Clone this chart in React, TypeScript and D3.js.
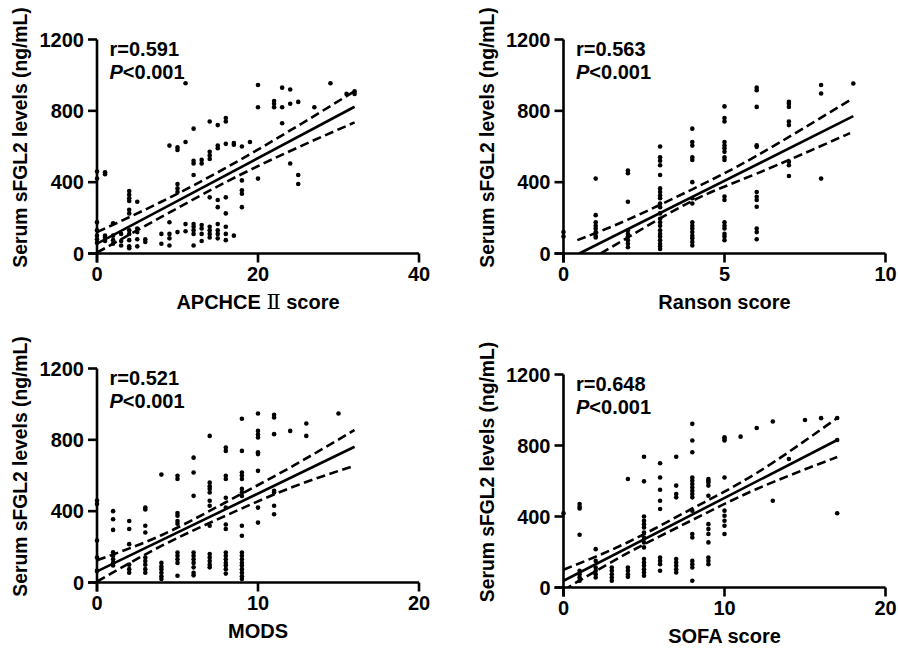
import React from "react"
import * as d3 from "d3"

// shared y axis
const yTicks = [0, 400, 800, 1200]
const yTitle = "Serum sFGL2 levels (ng/mL)"

// APCHCE II panel
const apachePts: [number, number][] = [
  [0, 460], [0, 420], [0, 175], [0, 130], [0, 100], [0, 80], [0, 60],
  [1, 455], [1, 445], [1, 100], [1, 70], [1, 90],
  [2, 170], [2, 100], [2, 75], [2, 55],
  [3, 110], [3, 70], [3, 45],
  [4, 350], [4, 330], [4, 310], [4, 295], [4, 245], [4, 225], [4, 130], [4, 110], [4, 75], [4, 40], [4, 30],
  [5, 290], [5, 140], [5, 120], [5, 80], [5, 40],
  [6, 80], [6, 65],
  [8, 110], [8, 55],
  [9, 605], [9, 175], [9, 110], [9, 85], [9, 45],
  [10, 595], [10, 580], [10, 390], [10, 365], [10, 345], [10, 120],
  [11, 955], [11, 625], [11, 165], [11, 125],
  [12, 700], [12, 520], [12, 505], [12, 440], [12, 165], [12, 150], [12, 130], [12, 110], [12, 45],
  [13, 525], [13, 505], [13, 160], [13, 140], [13, 110], [13, 70],
  [14, 740], [14, 570], [14, 550], [14, 530], [14, 315], [14, 150], [14, 130], [14, 110], [14, 90],
  [15, 720], [15, 605], [15, 590], [15, 300], [15, 260], [15, 165], [15, 130], [15, 110], [15, 85],
  [16, 760], [16, 740], [16, 615], [16, 315], [16, 225], [16, 150], [16, 110], [16, 75],
  [17, 620], [17, 610], [17, 100],
  [18, 600], [18, 410], [18, 355], [18, 335], [18, 260],
  [19, 625],
  [20, 945], [20, 820], [20, 420],
  [22, 855], [22, 840], [22, 820],
  [23, 930], [23, 820], [23, 730],
  [24, 920], [24, 840], [24, 505],
  [25, 850], [25, 440], [25, 390],
  [27, 820], [29, 955], [31, 895], [32, 910], [32, 895],
]
const apacheFit: [number, number][] = [[0, 55], [32, 823]]
const apacheCiX = [0, 8, 16, 24, 32]
const apacheCiUp = [120, 290, 480, 690, 910]
const apacheCiLo = [5, 205, 400, 575, 735]

// Ranson panel
const ransonPts: [number, number][] = [
  [0, 120], [0, 95],
  [1, 420], [1, 215], [1, 175], [1, 155], [1, 140], [1, 120], [1, 100], [1, 90],
  [2, 465], [2, 450], [2, 290], [2, 130], [2, 110], [2, 95], [2, 75], [2, 55], [2, 35],
  [3, 600], [3, 540], [3, 520], [3, 495], [3, 440], [3, 365], [3, 345], [3, 325], [3, 310], [3, 280], [3, 260],
  [3, 225], [3, 195], [3, 175], [3, 155], [3, 130], [3, 110], [3, 95], [3, 75], [3, 55], [3, 40], [3, 25],
  [4, 700], [4, 625], [4, 605], [4, 540], [4, 525], [4, 400], [4, 310], [4, 280], [4, 175], [4, 155], [4, 140],
  [4, 120], [4, 100], [4, 85], [4, 65], [4, 45],
  [5, 825], [5, 760], [5, 740], [5, 625], [5, 605], [5, 590], [5, 570], [5, 540], [5, 525], [5, 320], [5, 300],
  [5, 175], [5, 155], [5, 140], [5, 110], [5, 95], [5, 75],
  [6, 930], [6, 915], [6, 822], [6, 607], [6, 598], [6, 345], [6, 318], [6, 300], [6, 262], [6, 140], [6, 120], [6, 80],
  [7, 850], [7, 840], [7, 822], [7, 740], [7, 720], [7, 515], [7, 495], [7, 435],
  [8, 945], [8, 897], [8, 420],
  [9, 953],
]
const ransonFit: [number, number][] = [[0.49, 0], [9, 770]]
const ransonCiX = [0.43, 2, 4, 6, 8.9]
const ransonCiUp = [75, 190, 360, 548, 860]
const ransonCiLo = [-75, 90, 295, 448, 675]

// MODS panel
const modsPts: [number, number][] = [
  [0, 460], [0, 440], [0, 235], [0, 140], [0, 65],
  [1, 400], [1, 355], [1, 295], [1, 170], [1, 150], [1, 130], [1, 110], [1, 95],
  [2, 345], [2, 300], [2, 215], [2, 100], [2, 75], [2, 55],
  [3, 420], [3, 410], [3, 318], [3, 280], [3, 140], [3, 120], [3, 100], [3, 75], [3, 55],
  [4, 605], [4, 110], [4, 90], [4, 75], [4, 55], [4, 35], [4, 20],
  [5, 598], [5, 580], [5, 390], [5, 375], [5, 345], [5, 330], [5, 168], [5, 150], [5, 130], [5, 110], [5, 38],
  [6, 700], [6, 617], [6, 486], [6, 168], [6, 150], [6, 130], [6, 110], [6, 85], [6, 55], [6, 40],
  [7, 822], [7, 560], [7, 540], [7, 525], [7, 505], [7, 458], [7, 430], [7, 318], [7, 160], [7, 140], [7, 120], [7, 100], [7, 85],
  [8, 757], [8, 738], [8, 598], [8, 580], [8, 475], [8, 420], [8, 325], [8, 300], [8, 168], [8, 150], [8, 130],
  [8, 110], [8, 95], [8, 75], [8, 50],
  [9, 918], [9, 738], [9, 617], [9, 600], [9, 580], [9, 525], [9, 505], [9, 485], [9, 318], [9, 262], [9, 168],
  [9, 150], [9, 130], [9, 110], [9, 95], [9, 75], [9, 55], [9, 35], [9, 20],
  [10, 948], [10, 850], [10, 830], [10, 813], [10, 730], [10, 720], [10, 626], [10, 420], [10, 336],
  [11, 940], [11, 925], [11, 832], [11, 514], [11, 505], [11, 430], [11, 383],
  [12, 850], [13, 892], [13, 822], [15, 948],
]
const modsFit: [number, number][] = [[0, 62], [16, 761]]
const modsCiX = [0, 4, 8, 12, 16]
const modsCiUp = [125, 265, 450, 645, 855]
const modsCiLo = [5, 205, 375, 530, 655]

// SOFA panel
const sofaPts: [number, number][] = [
  [0, 418],
  [1, 470], [1, 455], [1, 445], [1, 297], [1, 94], [1, 75], [1, 56], [1, 38],
  [2, 216], [2, 150], [2, 113], [2, 94], [2, 75], [2, 56],
  [3, 113], [3, 94], [3, 75], [3, 56], [3, 38],
  [4, 611], [4, 113], [4, 94], [4, 75], [4, 60],
  [5, 737], [5, 598], [5, 400], [5, 376], [5, 357], [5, 338], [5, 310], [5, 282], [5, 254], [5, 226], [5, 160],
  [5, 141], [5, 122], [5, 103], [5, 85], [5, 66],
  [6, 700], [6, 620], [6, 551], [6, 489], [6, 442], [6, 169], [6, 150], [6, 131], [6, 94],
  [7, 737], [7, 574], [7, 527], [7, 508], [7, 160], [7, 141], [7, 122], [7, 103], [7, 85],
  [8, 922], [8, 828], [8, 762], [8, 620], [8, 602], [8, 583], [8, 564], [8, 545], [8, 527], [8, 508], [8, 433],
  [8, 301], [8, 282], [8, 150], [8, 131], [8, 113], [8, 38],
  [9, 611], [9, 602], [9, 592], [9, 574], [9, 517], [9, 357], [9, 329], [9, 301], [9, 254], [9, 169], [9, 150], [9, 131],
  [10, 846], [10, 837], [10, 828], [10, 620], [10, 433], [10, 404], [10, 376], [10, 348], [10, 301],
  [11, 850], [12, 899], [13, 935], [13, 489], [14, 724], [15, 944], [16, 954],
  [17, 955], [17, 831], [17, 418],
]
const sofaFit: [number, number][] = [[0, 38], [17, 831]]
const sofaCiX = [0, 4, 8, 12, 17]
const sofaCiUp = [100, 255, 445, 645, 955]
const sofaCiLo = [-15, 195, 380, 555, 735]

const panels = [
  { id: "a", xTitle: ["APCHCE ", "Ⅱ", " score"], r: "r=0.591", xMax: 40, xTicks: [0, 20, 40],
    pts: apachePts, fit: apacheFit, ciX: apacheCiX, ciUp: apacheCiUp, ciLo: apacheCiLo,
    box: { left: 97, right: 419, top: 39.5, bottom: 253.5 } },
  { id: "b", xTitle: ["Ranson score"], r: "r=0.563", xMax: 10, xTicks: [0, 5, 10],
    pts: ransonPts, fit: ransonFit, ciX: ransonCiX, ciUp: ransonCiUp, ciLo: ransonCiLo,
    box: { left: 563.5, right: 885.5, top: 39.5, bottom: 253.5 } },
  { id: "c", xTitle: ["MODS"], r: "r=0.521", xMax: 20, xTicks: [0, 10, 20],
    pts: modsPts, fit: modsFit, ciX: modsCiX, ciUp: modsCiUp, ciLo: modsCiLo,
    box: { left: 97, right: 419, top: 368.5, bottom: 582.5 } },
  { id: "d", xTitle: ["SOFA score"], r: "r=0.648", xMax: 20, xTicks: [0, 10, 20],
    pts: sofaPts, fit: sofaFit, ciX: sofaCiX, ciUp: sofaCiUp, ciLo: sofaCiLo,
    box: { left: 563.5, right: 885.5, top: 374.5, bottom: 587.5 } },
]

const font = "'Liberation Sans', Arial, sans-serif"

function Panel({ p }: { p: typeof panels[number] }) {
  const { left, right, top, bottom } = p.box
  const x = d3.scaleLinear().domain([0, p.xMax]).range([left, right])
  const y = d3.scaleLinear().domain([0, 1200]).range([bottom, top])
  const straight = d3.line<[number, number]>().x(d => x(d[0])).y(d => y(d[1]))
  const band = d3.line<[number, number]>().x(d => x(d[0])).y(d => y(d[1])).curve(d3.curveNatural)
  const up = p.ciX.map((v, i) => [v, p.ciUp[i]] as [number, number])
  const lo = p.ciX.map((v, i) => [v, p.ciLo[i]] as [number, number])
  const clipId = "clip-" + p.id
  return (
    <g fontFamily={font} fontWeight="bold" fill="#000">
      <defs>
        <clipPath id={clipId}>
          <rect x={left} y={top - 30} width={right - left + 10} height={bottom - top + 30} />
        </clipPath>
      </defs>
      {p.pts.map((d, i) => (
        <circle key={i} cx={x(d[0])} cy={y(d[1])} r={2.3} fill="#000" />
      ))}
      <g clipPath={`url(#${clipId})`} fill="none" stroke="#000" strokeWidth={2.6}>
        <path d={straight(p.fit) || ""} />
        <path d={band(up) || ""} strokeDasharray="9,4.5" />
        <path d={band(lo) || ""} strokeDasharray="9,4.5" />
      </g>
      {/* axes */}
      <g stroke="#000" strokeWidth={2.6}>
        <line x1={left} x2={left} y1={top} y2={bottom + 9} />
        <line x1={left - 9} x2={right} y1={bottom} y2={bottom} />
        {yTicks.map(t => <line key={t} x1={left - 9} x2={left} y1={y(t)} y2={y(t)} />)}
        {p.xTicks.map(t => <line key={t} x1={x(t)} x2={x(t)} y1={bottom} y2={bottom + 9} />)}
      </g>
      {yTicks.map(t => (
        <text key={t} x={left - 13} y={y(t)} dy="0.36em" textAnchor="end" fontSize={20}>{t}</text>
      ))}
      {p.xTicks.map(t => (
        <text key={t} x={x(t)} y={bottom + 27} textAnchor="middle" fontSize={20}>{t}</text>
      ))}
      <text x={(left + right) / 2} y={bottom + 55} textAnchor="middle" fontSize={20}>
        {p.xTitle.map((s, i) =>
          s === "Ⅱ"
            ? <tspan key={i} fontFamily="'DejaVu Serif', 'Noto Sans CJK SC', serif" fontWeight="normal" fontSize={21}>{s}</tspan>
            : <tspan key={i}>{s}</tspan>
        )}
      </text>
      <text transform={`translate(${left - 70},${(top + bottom) / 2 - 9}) rotate(-90)`}
        textAnchor="middle" fontSize={19.3}>{yTitle}</text>
      <text x={left + 12.5} y={top + 16} fontSize={20}>{p.r}</text>
      <text x={left + 12.5} y={top + 39} fontSize={20}>
        <tspan fontStyle="italic">P</tspan>
        <tspan>{"<0.001"}</tspan>
      </text>
    </g>
  )
}

export default function App() {
  return (
    <svg width={898} height={648} style={{ position: "absolute", left: 0, top: 0, background: "#fff" }}>
      <rect width={898} height={648} fill="#fff" />
      {panels.map(p => <Panel key={p.id} p={p} />)}
    </svg>
  )
}
